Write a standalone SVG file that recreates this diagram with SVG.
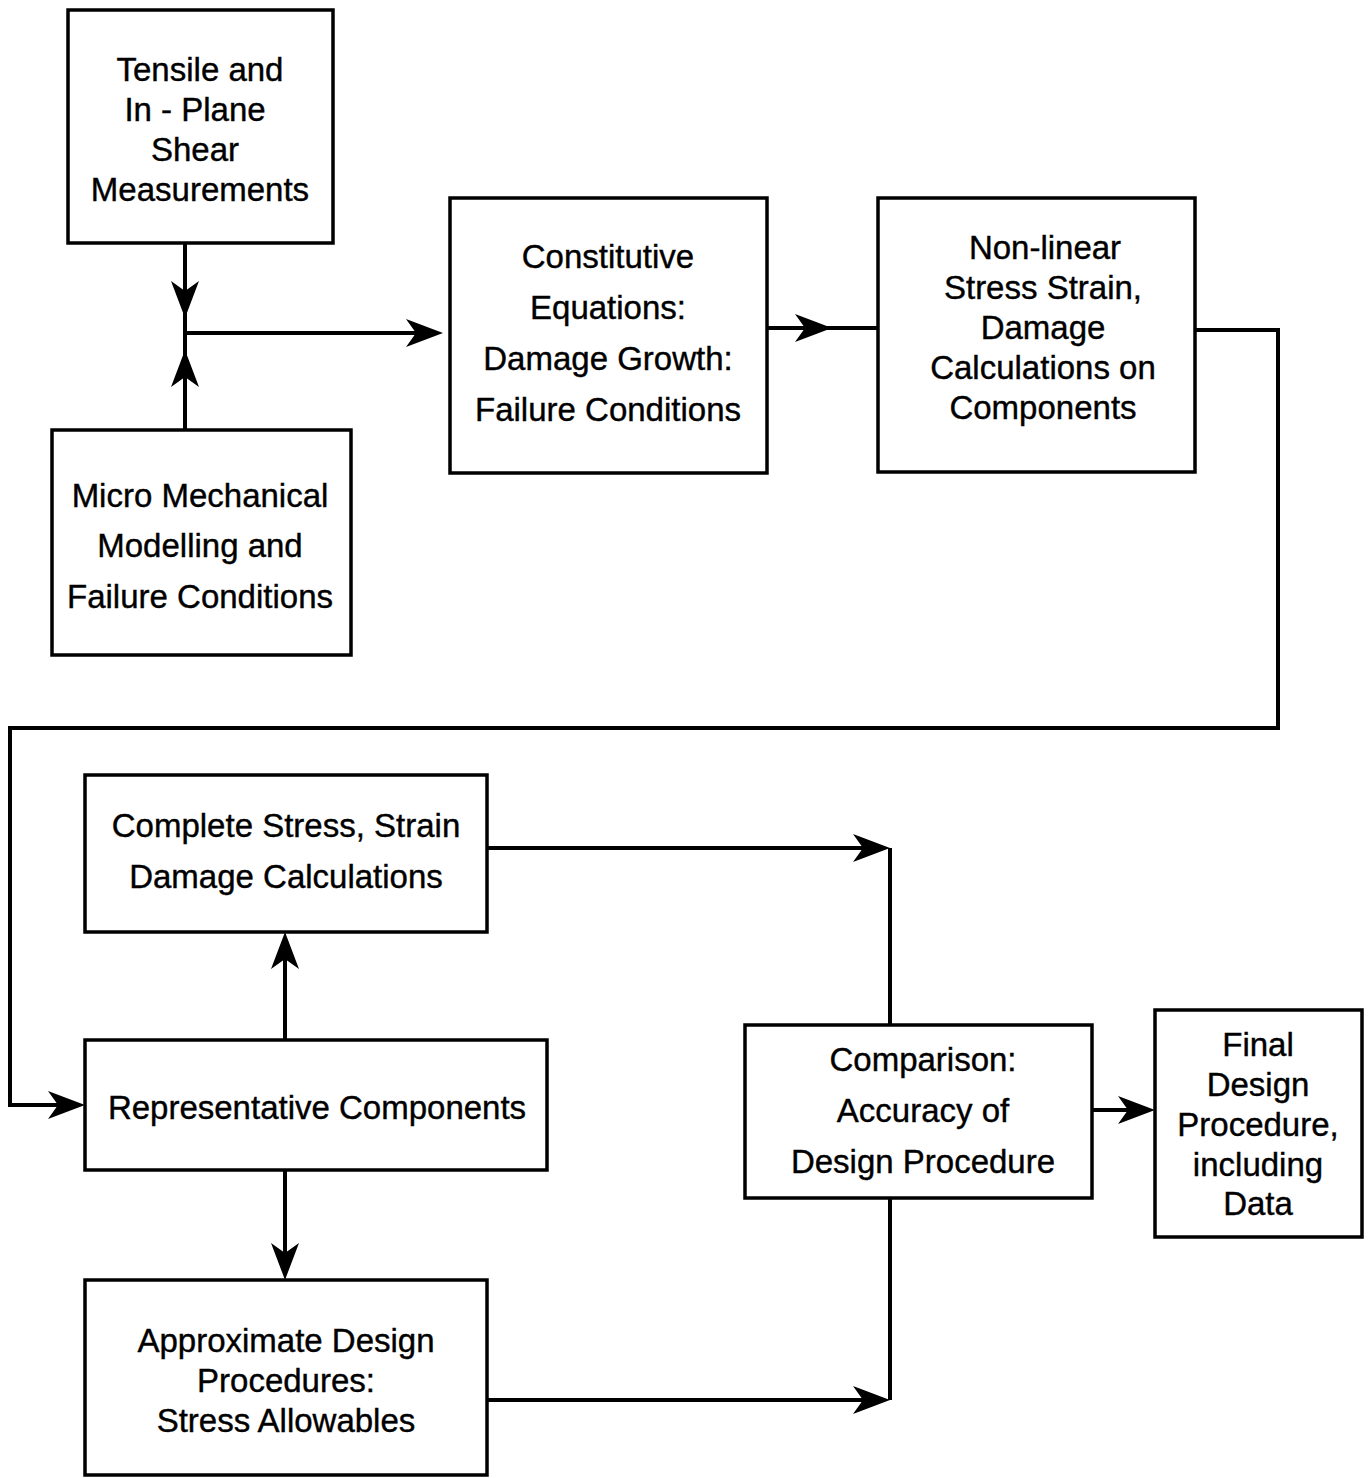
<svg xmlns="http://www.w3.org/2000/svg" width="1370" height="1478" viewBox="0 0 1370 1478">
<style>
.box{fill:#fff;stroke:#000;stroke-width:3.5}
.t{font-family:"Liberation Sans",Arial,sans-serif;font-size:33px;fill:#000;stroke:#000;stroke-width:0.4;text-anchor:middle}
.c{fill:none;stroke:#000;stroke-width:4;stroke-linejoin:miter}
</style>
<defs>
<marker id="ah" viewBox="-40 -16 44 32" refX="-10" refY="0" markerWidth="44" markerHeight="32" orient="auto" markerUnits="userSpaceOnUse">
<path d="M0,0 L-37,-14 L-27,0 L-37,14 Z" fill="#000"/>
</marker>
</defs>
<rect width="1370" height="1478" fill="#fff"/>
<g id="connectors">
<path class="c" d="M185,243 V430"/>
<path class="c" d="M185,243 V308" marker-end="url(#ah)"/>
<path class="c" d="M185,430 V360" marker-end="url(#ah)"/>
<path class="c" d="M185,333 H433" marker-end="url(#ah)"/>
<path class="c" d="M767,328 H878"/>
<path class="c" d="M767,328 H822" marker-end="url(#ah)"/>
<path class="c" d="M1195,330 H1278 V728 H10 V1105 H75" marker-end="url(#ah)"/>
<path class="c" d="M285,1040 V942" marker-end="url(#ah)"/>
<path class="c" d="M285,1170 V1270" marker-end="url(#ah)"/>
<path class="c" d="M487,848 H880" marker-end="url(#ah)"/>
<path class="c" d="M890,848 V1025"/>
<path class="c" d="M487,1400 H880" marker-end="url(#ah)"/>
<path class="c" d="M890,1400 V1198"/>
<path class="c" d="M1092,1110 H1145" marker-end="url(#ah)"/>
</g>
<g id="tensile">
<rect class="box" x="68" y="10" width="265" height="233"/>
<text class="t" x="200" y="81">Tensile and</text>
<text class="t" x="195" y="121">In - Plane</text>
<text class="t" x="195" y="161">Shear</text>
<text class="t" x="200" y="201">Measurements</text>
</g>
<g id="micro">
<rect class="box" x="52" y="430" width="299" height="225"/>
<text class="t" x="200" y="507">Micro Mechanical</text>
<text class="t" x="200" y="557">Modelling and</text>
<text class="t" x="200" y="608">Failure Conditions</text>
</g>
<g id="constitutive">
<rect class="box" x="450" y="198" width="317" height="275"/>
<text class="t" x="608" y="268">Constitutive</text>
<text class="t" x="608" y="319">Equations:</text>
<text class="t" x="608" y="370">Damage Growth:</text>
<text class="t" x="608" y="421">Failure Conditions</text>
</g>
<g id="nonlinear">
<rect class="box" x="878" y="198" width="317" height="274"/>
<text class="t" x="1045" y="259">Non-linear</text>
<text class="t" x="1043" y="299">Stress Strain,</text>
<text class="t" x="1043" y="339">Damage</text>
<text class="t" x="1043" y="379">Calculations on</text>
<text class="t" x="1043" y="419">Components</text>
</g>
<g id="complete">
<rect class="box" x="85" y="775" width="402" height="157"/>
<text class="t" x="286" y="837">Complete Stress, Strain</text>
<text class="t" x="286" y="888">Damage Calculations</text>
</g>
<g id="representative">
<rect class="box" x="85" y="1040" width="462" height="130"/>
<text class="t" x="317" y="1119">Representative Components</text>
</g>
<g id="approximate">
<rect class="box" x="85" y="1280" width="402" height="195"/>
<text class="t" x="286" y="1352">Approximate Design</text>
<text class="t" x="286" y="1392">Procedures:</text>
<text class="t" x="286" y="1432">Stress Allowables</text>
</g>
<g id="comparison">
<rect class="box" x="745" y="1025" width="347" height="173"/>
<text class="t" x="923" y="1071">Comparison:</text>
<text class="t" x="923" y="1122">Accuracy of</text>
<text class="t" x="923" y="1173">Design Procedure</text>
</g>
<g id="final">
<rect class="box" x="1155" y="1010" width="207" height="227"/>
<text class="t" x="1258" y="1056">Final</text>
<text class="t" x="1258" y="1096">Design</text>
<text class="t" x="1258" y="1136">Procedure,</text>
<text class="t" x="1258" y="1176">including</text>
<text class="t" x="1258" y="1215">Data</text>
</g>
</svg>
